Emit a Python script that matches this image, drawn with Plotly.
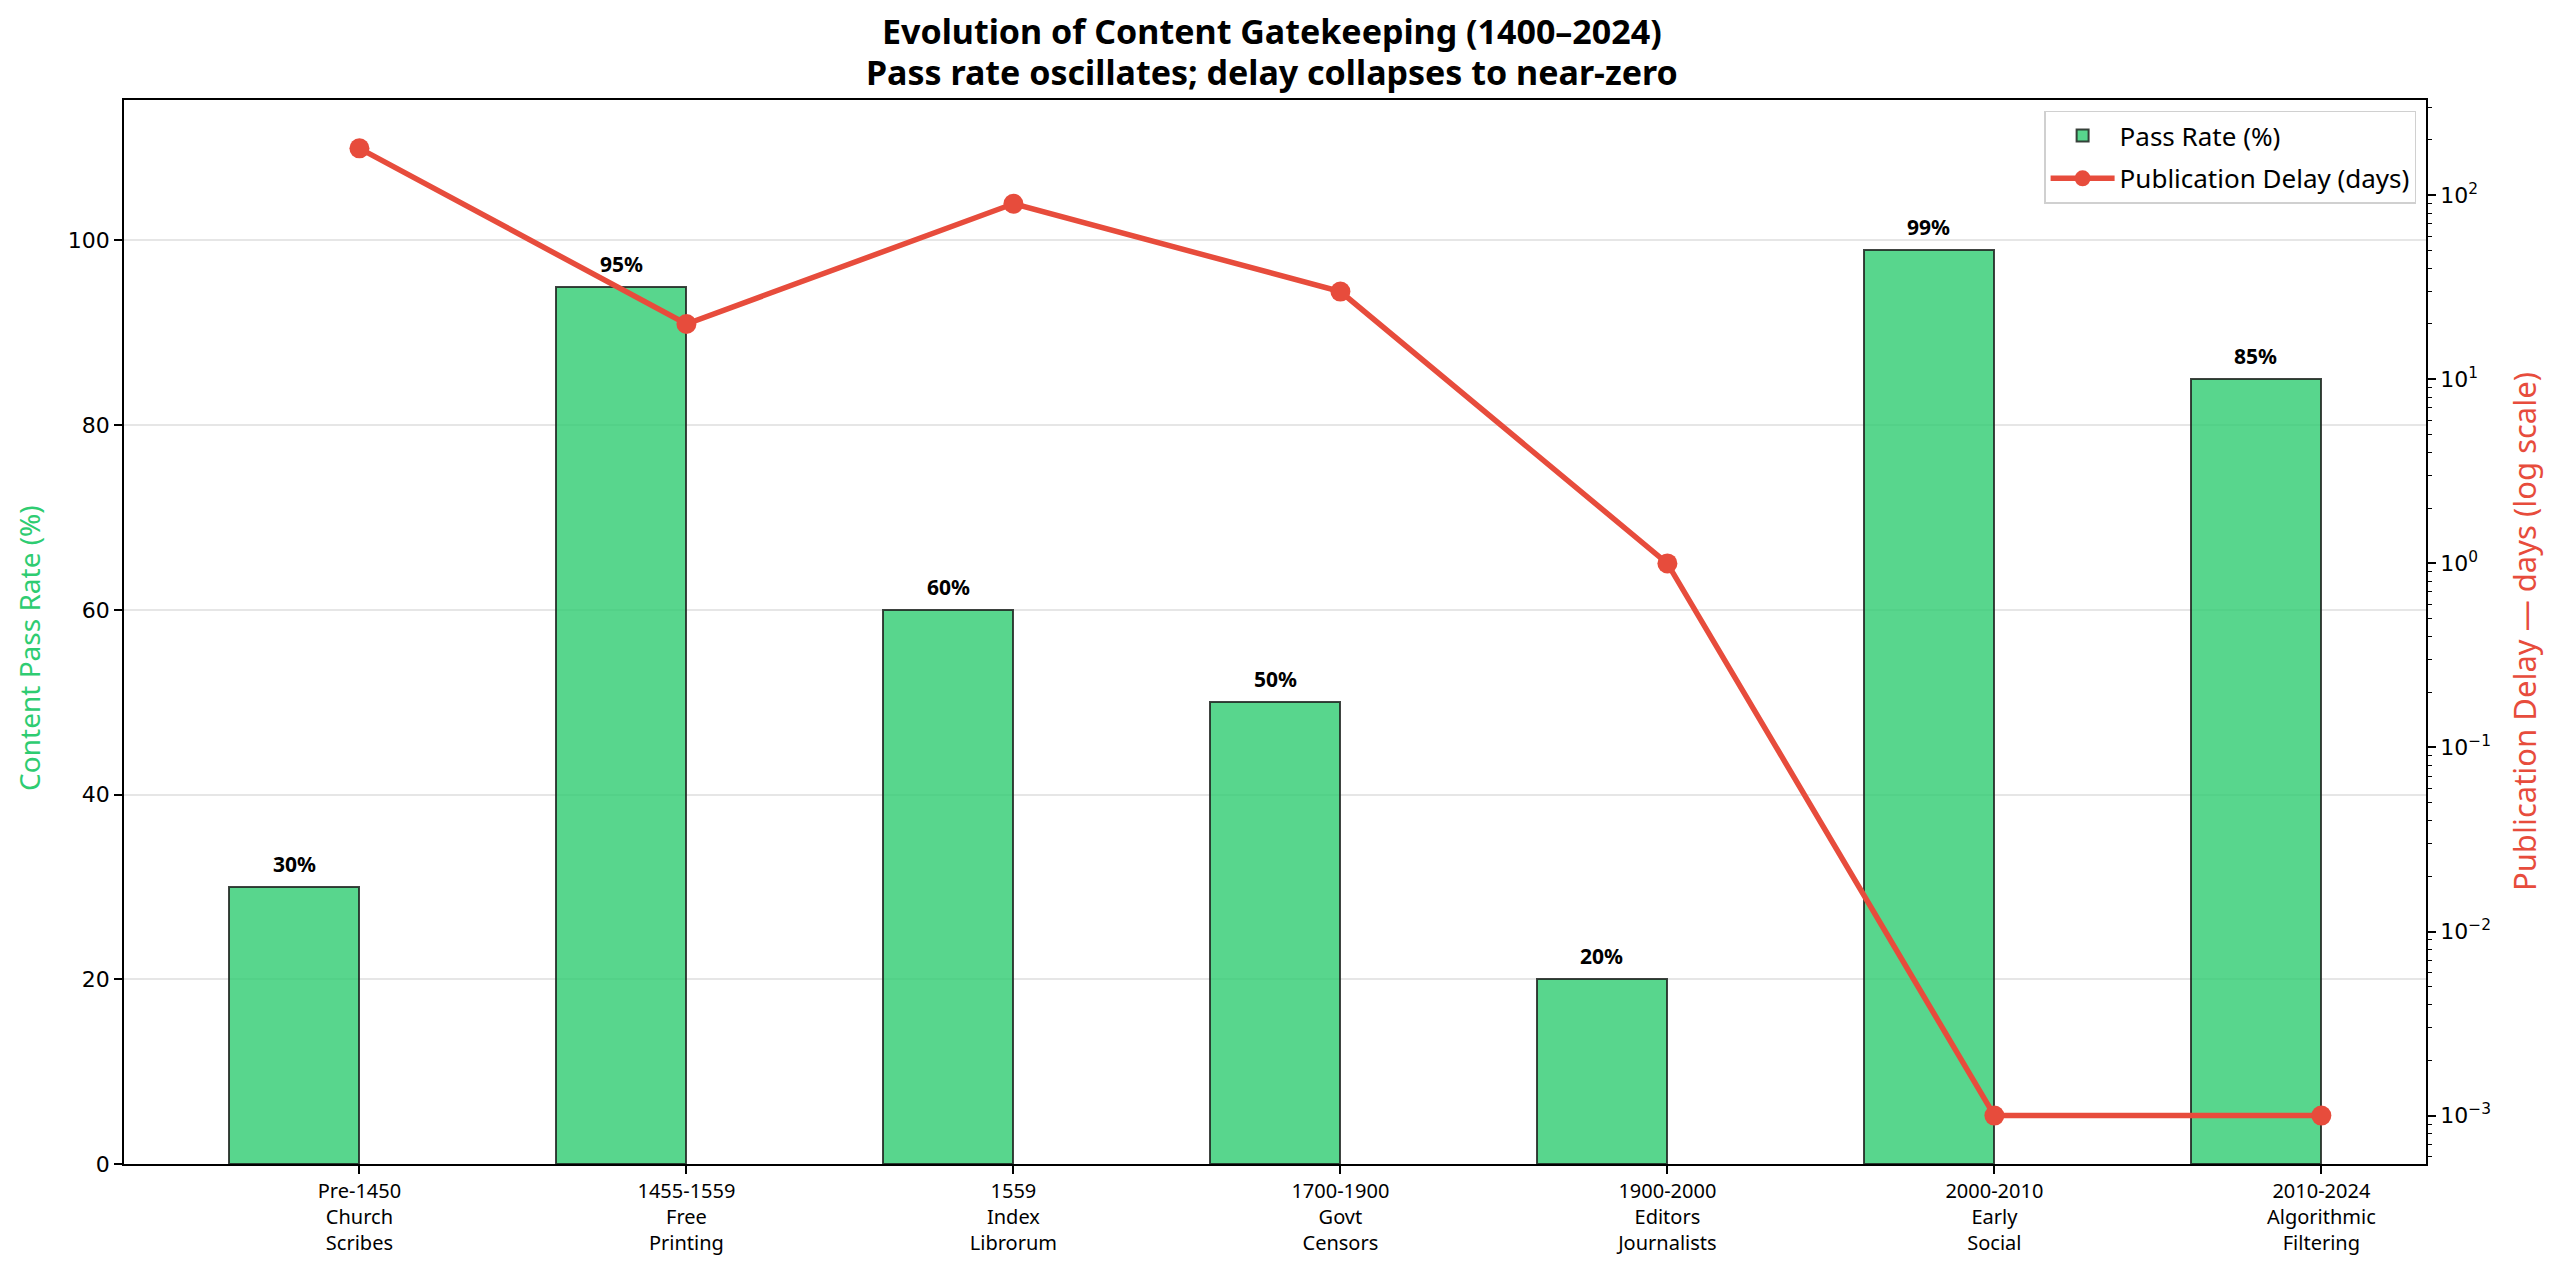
import plotly.graph_objects as go

categories = ["Pre-1450<br>Church<br>Scribes", "1455-1559<br>Free<br>Printing", "1559<br>Index<br>Librorum",
              "1700-1900<br>Govt<br>Censors", "1900-2000<br>Editors<br>Journalists", "2000-2010<br>Early<br>Social",
              "2010-2024<br>Algorithmic<br>Filtering"]
pass_rate = [30, 95, 60, 50, 20, 99, 85]
delay_days = [180, 20, 90, 30, 1, 0.001, 0.001]
log_tick_vals = [1e-3, 1e-2, 1e-1, 1e0, 1e1, 1e2]
log_tick_text = ["10<sup>−3</sup>", "10<sup>−2</sup>", "10<sup>−1</sup>", "10<sup>0</sup>", "10<sup>1</sup>", "10<sup>2</sup>"]
log_minor_vals = [m * 10.0 ** e for e in range(-4, 3) for m in range(2, 10)]

idx = list(range(len(categories)))
bar_x = [i - 0.2 for i in idx]

GREEN = "#2ecc71"
RED = "#e74c3c"
FONT = "Noto Sans"
LOG_RANGE = [-3.263, 2.518]

fig = go.Figure()
fig.add_trace(go.Bar(
    x=bar_x, y=pass_rate, width=0.4, name="Pass Rate (%)", legendgroup="a",
    marker=dict(color="rgba(46,204,113,0.8)", line=dict(color="rgba(30,35,32,0.85)", width=2)),
    yaxis="y",
))
fig.add_trace(go.Scatter(
    x=idx, y=delay_days, name="Publication Delay (days)", mode="lines+markers", legendgroup="b",
    line=dict(color=RED, width=5.5), marker=dict(color=RED, size=20),
    yaxis="y2",
))

annotations = []
for xb, v in zip(bar_x, pass_rate):
    annotations.append(dict(
        x=xb, y=v, xref="x", yref="y", text=f"<b>{v}%</b>", showarrow=False,
        xanchor="center", yanchor="bottom", yshift=7,
        font=dict(family=FONT, size=21, color="black"),
    ))
annotations += [
    dict(text="<b>Evolution of Content Gatekeeping (1400–2024)</b>", xref="paper", yref="paper",
         x=0.4985, y=1 + (100 - 31) / 1064, xanchor="center", yanchor="middle", showarrow=False,
         font=dict(family=FONT, size=34, color="black")),
    dict(text="<b>Pass rate oscillates; delay collapses to near-zero</b>", xref="paper", yref="paper",
         x=0.4985, y=1 + (100 - 72) / 1064, xanchor="center", yanchor="middle", showarrow=False,
         font=dict(family=FONT, size=34, color="black")),
    dict(text="Content Pass Rate (%)", xref="paper", yref="paper", x=-0.0413, y=0.485,
         textangle=-90, showarrow=False, xanchor="center", yanchor="middle",
         font=dict(family=FONT, size=28, color=GREEN)),
    dict(text="Publication Delay — days (log scale)", xref="paper", yref="paper", x=1.0426, y=0.5,
         textangle=-90, showarrow=False, xanchor="center", yanchor="middle",
         font=dict(family=FONT, size=31, color=RED)),
]

fig.update_layout(
    width=2560, height=1271,
    margin=dict(l=124, r=134, t=100, b=107),
    paper_bgcolor="white", plot_bgcolor="white",
    font=dict(family=FONT, color="black"),
    bargap=0,
    xaxis=dict(
        range=[-0.72, 6.32], tickvals=idx, ticktext=categories,
        showline=True, linecolor="black", linewidth=1.8, mirror=True,
        ticks="outside", ticklen=8, tickwidth=1.6, tickcolor="black",
        showgrid=False, zeroline=False,
        tickfont=dict(family=FONT, size=20, color="black"),
    ),
    yaxis=dict(
        range=[0, 115.2], tickvals=[0, 20, 40, 60, 80, 100],
        showline=True, linecolor="black", linewidth=1.8,
        ticks="outside", ticklen=8, tickwidth=1.6, tickcolor="black",
        showgrid=True, gridcolor="#e6e6e6", gridwidth=1.5, zeroline=False,
        tickfont=dict(family="DejaVu Sans", size=22, color="black"),
    ),
    yaxis2=dict(
        type="log", range=LOG_RANGE, overlaying="y", side="right",
        tickvals=log_tick_vals, ticktext=log_tick_text,
        showline=True, linecolor="black", linewidth=1.8,
        ticks="outside", ticklen=8, tickwidth=1.6, tickcolor="black",
        showgrid=False, zeroline=False,
        tickfont=dict(family="DejaVu Sans", size=22, color="black"),
    ),
    yaxis3=dict(
        type="log", range=LOG_RANGE, overlaying="y", side="right",
        tickvals=log_minor_vals, showticklabels=False,
        ticks="outside", ticklen=4.5, tickwidth=1.2, tickcolor="black",
        showgrid=False, zeroline=False, showline=False,
    ),
    legend=dict(
        x=0.9957, xanchor="right", y=0.99, yanchor="top",
        bgcolor="rgba(255,255,255,0.9)", bordercolor="#d0d0d0", borderwidth=1.5,
        font=dict(family=FONT, size=26, color="black"),
        itemwidth=64, traceorder="grouped", tracegroupgap=6,
    ),
    showlegend=True,
    annotations=annotations,
)
# invisible trace to activate the minor-tick axis
fig.add_trace(go.Scatter(x=[idx[0]], y=[delay_days[0]], yaxis="y3", mode="markers",
                         marker=dict(opacity=0), showlegend=False, hoverinfo="skip"))

fig.write_html("out.html")
